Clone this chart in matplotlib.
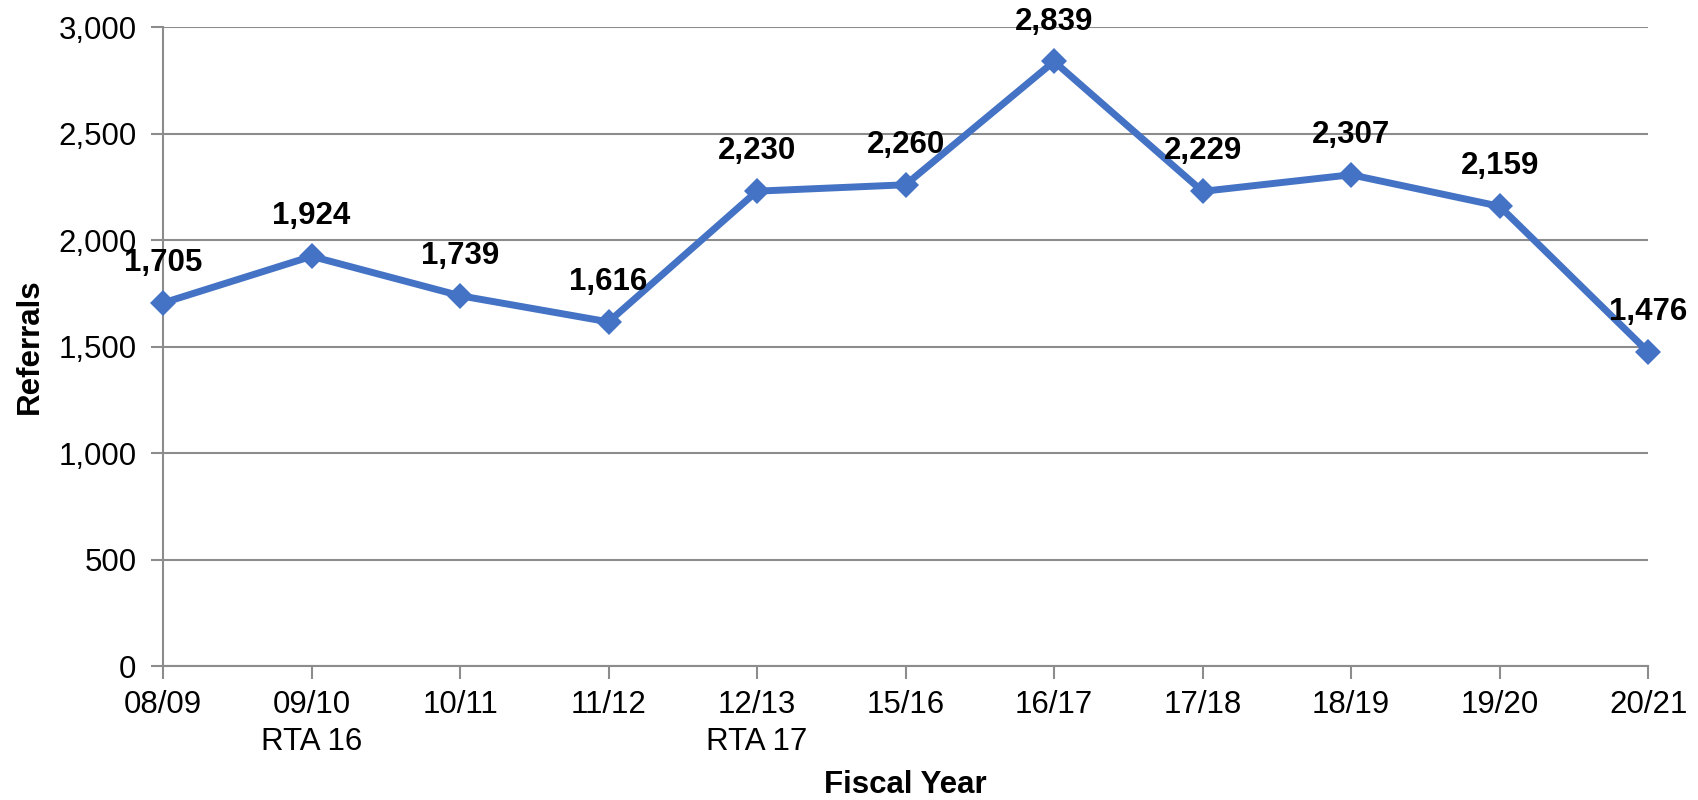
import matplotlib.pyplot as plt
import numpy as np

# Referrals per fiscal year
years = ['08/09', '09/10\nRTA 16', '10/11', '11/12', '12/13\nRTA 17',
         '15/16', '16/17', '17/18', '18/19', '19/20', '20/21']
referrals = [1705, 1924, 1739, 1616, 2230, 2260, 2839, 2229, 2307, 2159, 1476]

plt.rcParams['font.family'] = ['Liberation Sans', 'DejaVu Sans']

fig = plt.figure(figsize=(16.98, 8), dpi=100)
ax = fig.add_axes([0.096, 0.1675, 0.8746, 0.7985])

x = np.arange(len(years))
line_color = '#4472C4'
grid_color = '#8C8C8C'

ax.plot(x, referrals, color=line_color, linewidth=5, marker='D',
        markersize=13, markeredgewidth=0, zorder=3, clip_on=False)

# value labels above each point
for xi, val in zip(x, referrals):
    ax.annotate(f'{val:,}', (xi, val), xytext=(0, 23), textcoords='offset points',
                ha='center', va='baseline', fontsize=22.5, fontweight='bold',
                color='black', zorder=4)

ax.set_xlim(0, len(years) - 1)
ax.set_ylim(0, 3000)
ax.set_yticks(np.arange(0, 3001, 500))
ax.yaxis.set_major_formatter(plt.FuncFormatter(lambda v, p: f'{int(v):,}'))
ax.set_xticks(x)
ax.set_xticklabels(years, fontsize=22.5, linespacing=1.3)
ax.tick_params(axis='y', labelsize=22.5, length=9, color=grid_color, width=1.5, pad=10)
ax.tick_params(axis='x', length=9, color=grid_color, width=1.5, pad=8)

ax.grid(axis='y', color=grid_color, linewidth=1.5)
ax.set_axisbelow(True)
for side in ['top', 'right']:
    ax.spines[side].set_visible(False)
for side in ['left', 'bottom']:
    ax.spines[side].set_color(grid_color)
    ax.spines[side].set_linewidth(1.5)

ax.set_xlabel('Fiscal Year', fontsize=22.5, fontweight='bold', labelpad=10)
ax.set_ylabel('Referrals', fontsize=22.5, fontweight='bold', labelpad=10)

plt.savefig('out.png', dpi=100)
plt.close()
